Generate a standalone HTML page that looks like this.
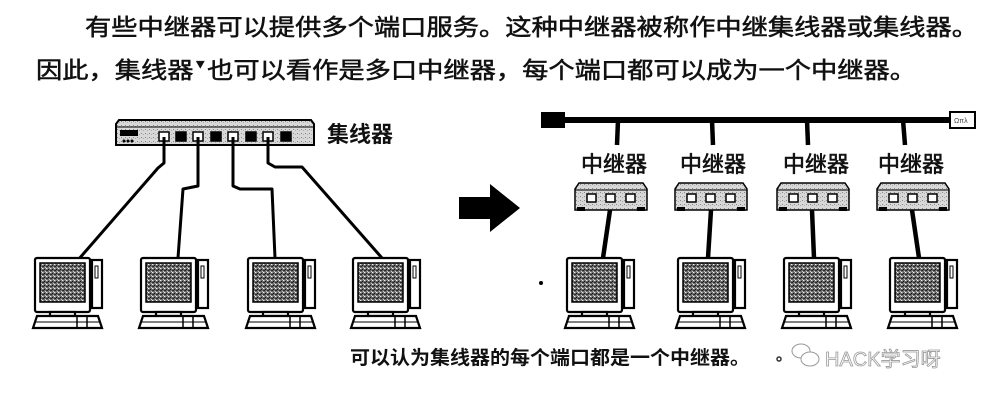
<!DOCTYPE html>
<html><head><meta charset="utf-8"><style>
html,body{margin:0;padding:0;background:#fff;}
svg{display:block;}
text{font-family:"Liberation Sans","Noto Sans CJK SC",sans-serif;}
</style></head><body>
<svg width="1000" height="402" viewBox="0 0 1000 402" xmlns="http://www.w3.org/2000/svg">
<defs>
<pattern id="noise" width="4" height="4" patternUnits="userSpaceOnUse">
<rect width="4" height="4" fill="#6a6a6a"/>
<rect x="0" y="0" width="1" height="1" fill="#222"/>
<rect x="2" y="1" width="1" height="1" fill="#ccc"/>
<rect x="1" y="3" width="1" height="1" fill="#111"/>
<rect x="3" y="2" width="1" height="1" fill="#eee"/>
<rect x="3" y="0" width="1" height="1" fill="#333"/>
<rect x="0" y="2" width="1" height="1" fill="#999"/>
</pattern>
<pattern id="dots" width="4" height="4" patternUnits="userSpaceOnUse">
<rect width="4" height="4" fill="#d8d8d8"/>
<rect x="1" y="1" width="1" height="1" fill="#888"/>
<rect x="3" y="2" width="1" height="1" fill="#aaa"/>
</pattern>
<g id="pc" stroke="#000" stroke-width="2.2">
<rect x="0" y="0" width="55" height="54" fill="#fff" rx="2"/>
<rect x="5" y="5" width="45" height="39" fill="url(#noise)" stroke-width="1.5"/>
<rect x="57" y="2" width="10" height="48" fill="#fff"/>
<rect x="60" y="8" width="3" height="12" fill="#fff" stroke-width="1"/>
<rect x="15" y="54" width="25" height="4" fill="#fff"/>
<path d="M2 58 H63 L67 70 H-2 Z" fill="#fff"/>
<line x1="0" y1="64" x2="65" y2="64" stroke-width="1"/>
<line x1="42" y1="58" x2="42" y2="70" stroke-width="1.5"/>
<line x1="52" y1="58" x2="52" y2="70" stroke-width="1.5"/>
</g>
<g id="rep">
<path d="M4 0 H68 L72 6 V27 H0 V6 Z" fill="url(#dots)" stroke="#000" stroke-width="1.5"/>
<line x1="0" y1="7" x2="72" y2="7" stroke="#000" stroke-width="1"/>
<rect x="2" y="24" width="8" height="4" fill="#000"/>
<rect x="62" y="24" width="8" height="4" fill="#000"/>
<g fill="#fff" stroke="#000" stroke-width="1.5">
<rect x="12" y="11" width="9" height="8"/><rect x="31" y="11" width="9" height="8"/><rect x="51" y="11" width="9" height="8"/>
</g>
</g>
</defs>

<text x="85" y="35" font-size="23" textLength="893" lengthAdjust="spacingAndGlyphs" fill="#111" stroke="#111" stroke-width="0.5">有些中继器可以提供多个端口服务。这种中继器被称作中继集线器或集线器。</text>
<text x="36" y="78" font-size="23" fill="#111" stroke="#111" stroke-width="0.5" textLength="880" lengthAdjust="spacingAndGlyphs">因此，集线器<tspan font-size="12" dy="-10">▼</tspan><tspan dy="10">也可以看作是多口中继器，每个端口都可以成为一个中继器。</tspan></text>

<path d="M119 120 H311 L314 124 V145 H116 V124 Z" fill="url(#dots)" stroke="#000" stroke-width="2"/>
<line x1="116" y1="127" x2="314" y2="127" stroke="#000" stroke-width="1"/>
<rect x="120" y="130" width="18" height="6" fill="#000"/>
<circle cx="124" cy="141" r="1.5"/><circle cx="128" cy="141" r="1.5"/><circle cx="132" cy="141" r="1.5"/>
<g stroke="#000" stroke-width="1.5">
<rect x="159" y="132" width="10" height="9" fill="#fff"/>
<rect x="176" y="132" width="10" height="9" fill="#000"/>
<rect x="193" y="132" width="10" height="9" fill="#fff"/>
<rect x="211" y="132" width="10" height="9" fill="#000"/>
<rect x="228" y="132" width="10" height="9" fill="#fff"/>
<rect x="246" y="132" width="10" height="9" fill="#000"/>
<rect x="263" y="132" width="10" height="9" fill="#fff"/>
<rect x="281" y="132" width="10" height="9" fill="#000"/>
</g>
<text x="327" y="142" font-size="22" font-weight="bold" fill="#111">集线器</text>

<g fill="none" stroke="#000" stroke-width="3" stroke-linejoin="round">
<path d="M164 137 V163 L158 168 L78 260"/>
<path d="M198 137 V186 L183 189 L178 258"/>
<path d="M233 137 V186 L240 189 H272 L275 258"/>
<path d="M268 137 V163 L275 167 H302 L382 258"/>
</g>

<use href="#pc" x="35" y="258"/>
<use href="#pc" x="141" y="258"/>
<use href="#pc" x="248" y="258"/>
<use href="#pc" x="353" y="258"/>

<path d="M459 197 H490 V184 L520 208 L490 232 V219 H459 Z" fill="#000"/>
<circle cx="541" cy="283" r="2" fill="#000"/>

<rect x="565" y="117" width="385" height="6" fill="#000"/>
<rect x="541" y="112" width="24" height="16" fill="#000"/>
<rect x="950" y="112" width="25" height="16" fill="#fff" stroke="#000" stroke-width="2"/>
<text x="954" y="123" font-size="7" fill="#444">Ωπλ</text>
<g stroke="#000" stroke-width="4.5">
<line x1="618" y1="120" x2="617" y2="145"/>
<line x1="712" y1="120" x2="713" y2="145"/>
<line x1="807" y1="120" x2="808" y2="145"/>
<line x1="903" y1="120" x2="905" y2="145"/>
</g>
<g font-size="22" fill="#111" stroke="#111" stroke-width="0.6">
<text x="581" y="172">中继器</text>
<text x="680" y="172">中继器</text>
<text x="783" y="172">中继器</text>
<text x="878" y="172">中继器</text>
</g>
<use href="#rep" x="575" y="183"/>
<use href="#rep" x="675" y="183"/>
<use href="#rep" x="777" y="183"/>
<use href="#rep" x="877" y="183"/>
<g stroke="#000" stroke-width="4.5">
<line x1="610" y1="210" x2="603" y2="258"/>
<line x1="711" y1="210" x2="708" y2="258"/>
<line x1="812" y1="210" x2="814" y2="258"/>
<line x1="912" y1="210" x2="919" y2="258"/>
</g>
<use href="#pc" x="567" y="258"/>
<use href="#pc" x="678" y="258"/>
<use href="#pc" x="784" y="258"/>
<use href="#pc" x="890" y="258"/>

<text x="350" y="364" font-size="19" font-weight="bold" fill="#111" textLength="400" lengthAdjust="spacingAndGlyphs">可以认为集线器的每个端口都是一个中继器。</text>
<circle cx="779" cy="359" r="2" fill="none" stroke="#333" stroke-width="1.5"/>
<g fill="#fff" stroke="#999" stroke-width="1">
<ellipse cx="801" cy="351" rx="9" ry="7"/>
<ellipse cx="810" cy="359" rx="9" ry="7"/>
</g>
<text x="825" y="366" font-size="20" fill="#fff" stroke="#999" stroke-width="0.8">HACK学习呀</text>
</svg>
</body></html>
